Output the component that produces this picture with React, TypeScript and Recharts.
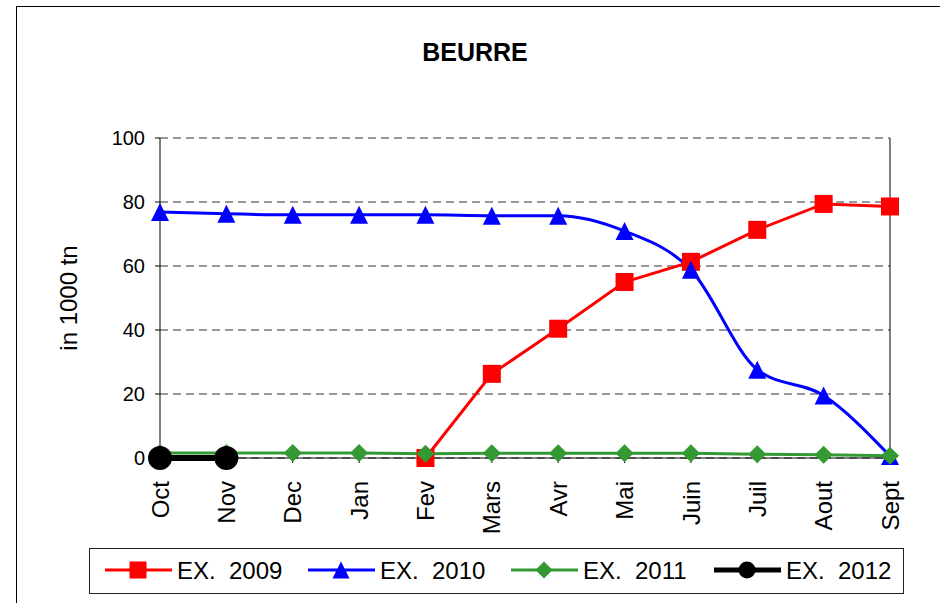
import { CartesianGrid, Line, LineChart, ReferenceLine, XAxis, YAxis } from "recharts";

const months = ["Oct", "Nov", "Dec", "Jan", "Fev", "Mars", "Avr", "Mai", "Juin", "Juil", "Aout", "Sept"];
const ex2009 = [null, null, null, null, 0, 26.3, 40.4, 55, 61.3, 71.3, 79.4, 78.6];
const ex2010 = [76.9, 76.3, 76, 76, 76, 75.7, 75.7, 70.9, 58.8, 27.6, 19.5, 0.6];
const ex2011 = [1.6, 1.6, 1.6, 1.6, 1.3, 1.5, 1.5, 1.5, 1.5, 1.2, 1, 0.7];
const ex2012 = [0, 0, null, null, null, null, null, null, null, null, null, null];
const yTicks = [0, 20, 40, 60, 80, 100];

const FONT = "'Liberation Sans', Arial, sans-serif";

type Shape = "square" | "triangle" | "diamond" | "circle";

const series: Array<{
  key: string;
  name: string;
  color: string;
  shape: Shape;
  width: number;
  curve: "linear" | "monotone";
  size: number;
}> = [
  { key: "ex2009", name: "EX.  2009", color: "#ff0000", shape: "square", width: 3, curve: "linear", size: 18 },
  { key: "ex2010", name: "EX.  2010", color: "#0000ff", shape: "triangle", width: 3, curve: "monotone", size: 18 },
  { key: "ex2011", name: "EX.  2011", color: "#339933", shape: "diamond", width: 3, curve: "linear", size: 18 },
  { key: "ex2012", name: "EX.  2012", color: "#000000", shape: "circle", width: 6, curve: "linear", size: 24 },
];

const data = months.map((m, i) => ({
  month: m,
  ex2009: ex2009[i],
  ex2010: ex2010[i],
  ex2011: ex2011[i],
  ex2012: ex2012[i],
}));

function marker(shape: Shape, cx: number, cy: number, color: string, size: number, key?: string | number) {
  const h = size / 2;
  if (shape === "square") {
    return <rect key={key} x={cx - h} y={cy - h} width={size} height={size} fill={color} />;
  }
  if (shape === "triangle") {
    return (
      <polygon key={key} points={`${cx},${cy - h} ${cx + h},${cy + h} ${cx - h},${cy + h}`} fill={color} />
    );
  }
  if (shape === "diamond") {
    return (
      <polygon key={key} points={`${cx},${cy - h} ${cx + h},${cy} ${cx},${cy + h} ${cx - h},${cy}`} fill={color} />
    );
  }
  return <circle key={key} cx={cx} cy={cy} r={h} fill={color} />;
}

function MonthTick(props: any) {
  const { x, y, payload } = props;
  return (
    <g transform={`translate(${x},${y})`}>
      <text transform="rotate(-90)" x={-18} y={0} dy="0.36em" textAnchor="end" fontSize={24} fill="#000" fontFamily={FONT}>
        {payload.value}
      </text>
    </g>
  );
}

export default function App() {
  return (
    <div
      style={{
        position: "absolute",
        left: 0,
        top: 0,
        width: 940,
        height: 603,
        overflow: "hidden",
        background: "#fff",
        fontFamily: FONT,
      }}
    >
      <LineChart
        width={940}
        height={603}
        data={data}
        margin={{ top: 138, right: 50, bottom: 65, left: 100 }}
      >
        <CartesianGrid vertical={false} stroke="#333" strokeDasharray="8 5" />
        <XAxis
          dataKey="month"
          interval={0}
          height={80}
          tick={<MonthTick />}
          tickSize={5}
          tickMargin={0}
          axisLine={{ stroke: "#000" }}
          tickLine={{ stroke: "#000" }}
        />
        <YAxis
          domain={[0, 100]}
          ticks={yTicks}
          width={60}
          tickSize={5}
          tickMargin={10}
          tick={{ fontSize: 20, fill: "#000", fontFamily: FONT }}
          axisLine={{ stroke: "#000" }}
          tickLine={{ stroke: "#000" }}
        />
        <ReferenceLine x="Sept" stroke="#000" strokeWidth={1} />
        {series.map((s) => (
          <Line
            key={s.key}
            dataKey={s.key}
            name={s.name}
            type={s.curve}
            stroke={s.color}
            strokeWidth={s.width}
            isAnimationActive={false}
            activeDot={false}
            dot={(p: any) =>
              p.cx == null || p.cy == null || p.value == null
                ? <g key={p.index} />
                : marker(s.shape, p.cx, p.cy, s.color, s.size, p.index)
            }
          />
        ))}
      </LineChart>

      <svg
        width={940}
        height={603}
        style={{ position: "absolute", left: 0, top: 0, pointerEvents: "none" }}
      >
        <rect x={16.5} y={6.5} width={1000} height={1000} fill="none" stroke="#000" strokeWidth={1} />
        <text x={475} y={61} textAnchor="middle" fontSize={25} fontWeight="bold" fill="#000" fontFamily={FONT}>
          BEURRE
        </text>
        <text
          transform="translate(77,298) rotate(-90)"
          textAnchor="middle"
          fontSize={24}
          fill="#000"
          fontFamily={FONT}
        >
          in 1000 tn
        </text>

        <rect x={89.5} y={548.5} width={814} height={45} fill="#fff" stroke="#222" strokeWidth={1} />
        {series.map((s, i) => {
          const x0 = 105 + i * 203;
          const cy = 570;
          return (
            <g key={s.key}>
              <line x1={x0} y1={cy} x2={x0 + 67} y2={cy} stroke={s.color} strokeWidth={s.shape === "circle" ? 5 : 3} />
              {marker(s.shape, x0 + 33, cy, s.color, 17)}
              <text
                x={x0 + 72}
                y={579}
                fontSize={24}
                fill="#000"
                fontFamily={FONT}
                style={{ whiteSpace: "pre" }}
              >
                {s.name}
              </text>
            </g>
          );
        })}
      </svg>
    </div>
  );
}
